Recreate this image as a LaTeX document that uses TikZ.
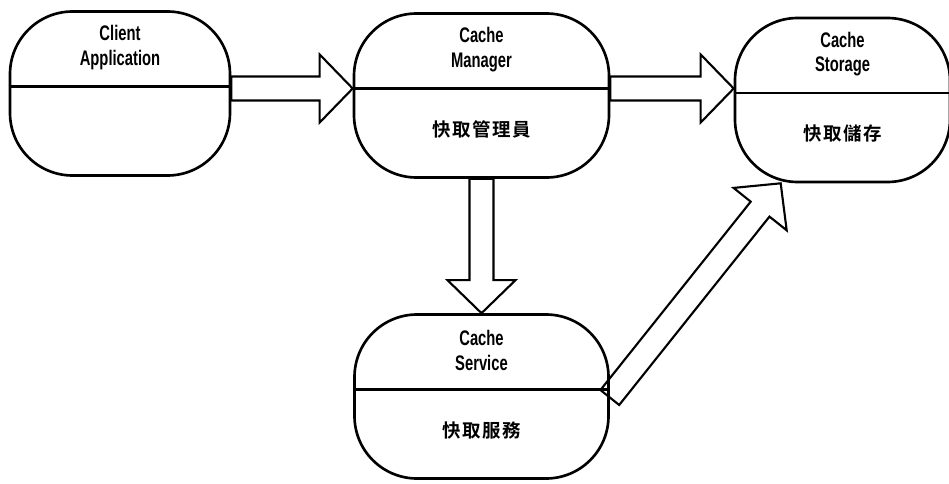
\documentclass[tikz,border=0pt]{standalone}
\usepackage{fontspec}
\newfontfamily\titlefont[FakeStretch=0.7]{Liberation Sans Bold}
\newfontfamily\cjk[LetterSpace=8]{Noto Sans CJK TC Bold}
\usetikzlibrary{calc,positioning}

\begin{document}
\begin{tikzpicture}[
    box/.style={draw, line width=1.5pt, rounded corners=1.25cm, minimum width=#1, minimum height=3.28cm, inner sep=0pt},
    divider/.style={line width=1.2pt},
    title/.style={font=\titlefont\fontsize{12}{14}\selectfont, align=center, inner sep=0pt},
    sub/.style={font=\cjk\fontsize{10.5}{12}\selectfont, inner sep=0pt},
    fat/.style={line width=1.2pt, line join=miter}]
    \useasboundingbox (0,0) rectangle (18.98,9.66);
    \def\sw{0.24cm}
    \def\hw{0.68cm}
    \def\hl{0.66cm}
    \def\fatarrow#1#2{%
        \coordinate (h) at ($(#2)!\hl!(#1)$);
        \draw[fat] ($(#1)!\sw!90:(#2)$) -- ($(h)!\sw!90:(#2)$) -- ($(h)!\hw!90:(#2)$) -- (#2)
            -- ($(h)!\hw!-90:(#2)$) -- ($(h)!\sw!-90:(#2)$) -- ($(#1)!\sw!-90:(#2)$) -- cycle;}
    % the four boxes
    \node(cl) [box=4.4cm] at (2.4,7.79) {};
    \node(cm) [box=5.1cm] at (9.63,7.75) {};
    \node(st) [box=4.3cm] at (16.85,7.66) {};
    \node(sv) [box=5.08cm] at (9.63,1.73) {};
    \foreach \b in {cl,cm,st,sv} {
        \coordinate (\b-w) at ([yshift=0.14cm]\b.west);
        \coordinate (\b-e) at ([yshift=0.14cm]\b.east);
        \draw[divider] (\b-w) -- (\b-e);
    }
    % texts
    \node(cl-t) [title] at ([yshift=0.92cm]cl.center) {Client\\Application};
    \node(cm-t) [title] at ([yshift=0.92cm]cm.center) {Cache\\Manager};
    \node(st-t) [title] at ([yshift=0.92cm]st.center) {Cache\\Storage};
    \node(sv-t) [title] at ([yshift=0.92cm]sv.center) {Cache\\Service};
    \node(cm-s) [sub] at ([yshift=-0.68cm]cm.center) {快取管理員};
    \node(st-s) [sub] at ([yshift=-0.68cm]st.center) {快取儲存};
    \node(sv-s) [sub] at ([yshift=-0.68cm]sv.center) {快取服務};
    % arrows
    \coordinate (cl-tail) at (cl.east |- cm-w);
    \coordinate (st-head) at (st.west |- cm-e);
    \coordinate (sv-tail) at ([yshift=-0.16cm]sv-e);
    \coordinate (st-tip) at ([xshift=0.94cm]st.south west);
    \fatarrow{cl-tail}{cm-w}
    \fatarrow{cm-e}{st-head}
    \fatarrow{cm.south}{sv.north}
    \fatarrow{sv-tail}{st-tip}
\end{tikzpicture}
\end{document}
